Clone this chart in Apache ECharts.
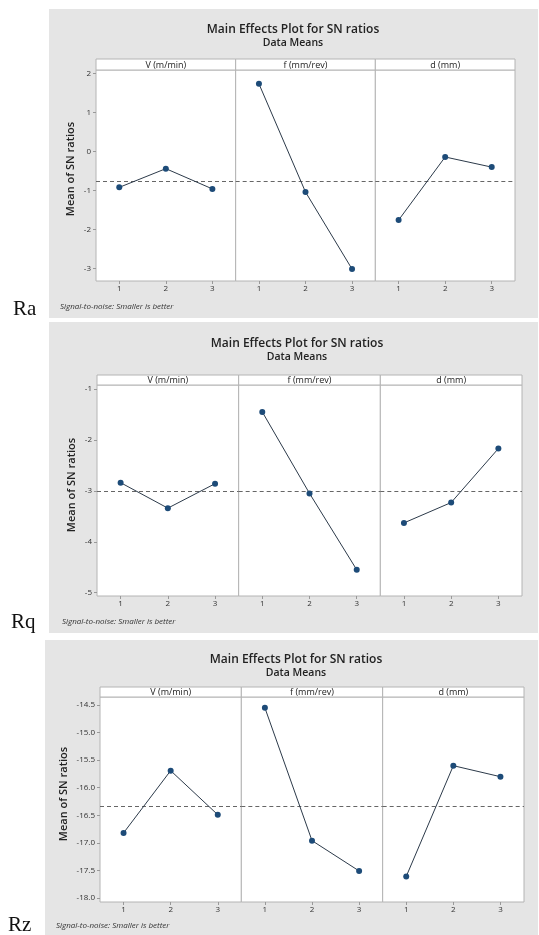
<!DOCTYPE html>
<html>
<head>
<meta charset="utf-8">
<script src="https://cdn.jsdelivr.net/npm/echarts@6/dist/echarts.min.js"></script>
<style>
html,body{margin:0;padding:0;background:#fff;}
#chart{width:539px;height:935px;}
</style>
</head>
<body>
<div id="chart"></div>
<script>
// ---- data ----
const levels = ['1', '2', '3'];
const factors = ['V (m/min)', 'f (mm/rev)', 'd (mm)'];
const chartTags = ['Ra', 'Rq', 'Rz'];
const titleText = 'Main Effects Plot for SN ratios';
const subtitleText = 'Data Means';
const yTitle = 'Mean of SN ratios';
const footText = 'Signal-to-noise: Smaller is better';

const raV = [-0.92, -0.44, -0.96];
const raF = [1.74, -1.04, -3.02];
const raD = [-1.76, -0.14, -0.40];

const rqV = [-2.84, -3.34, -2.86];
const rqF = [-1.45, -3.05, -4.55];
const rqD = [-3.63, -3.23, -2.17];

const rzV = [-16.82, -15.69, -16.49];
const rzF = [-14.55, -16.96, -17.51];
const rzD = [-17.61, -15.60, -15.80];

const raTicks = [-3, -2, -1, 0, 1, 2];
const rqTicks = [-5, -4, -3, -2, -1];
const rzTicks = [-18.0, -17.5, -17.0, -16.5, -16.0, -15.5, -15.0, -14.5];

const seriesSets = [[raV, raF, raD], [rqV, rqF, rqD], [rzV, rzF, rzD]];
const tickSets = [raTicks, rqTicks, rzTicks];
const decimals = [0, 0, 1];
const yRanges = [[-3.326, 2.095], [-5.065, -0.922], [-18.073, -14.354]];

// ---- layout (pixels) ----
const L = [
  {gx:49, gy:9, gw:489, gh:309, tx:293, ty:30, sy:43, left:96, right:515, hTop:59, hBot:70, bottom:281,
   footX:60, footY:307, ylX:71, ylY:169, tagX:13, tagY:309},
  {gx:49, gy:322, gw:489, gh:311, tx:297, ty:344, sy:357, left:97, right:522, hTop:375, hBot:385, bottom:596,
   footX:62, footY:622, ylX:72, ylY:485, tagX:11, tagY:622},
  {gx:45, gy:640, gw:493, gh:295, tx:296, ty:660, sy:673, left:100, right:524, hTop:687, hBot:697, bottom:902,
   footX:56, footY:926, ylX:64, ylY:794, tagX:8, tagY:925}
];

const FONT = '"Open Sans", "Noto Sans", sans-serif';
const BORDER = '#b4b4b4';
const BG = '#e5e5e5';

const graphic = [];
const grid = [], xAxis = [], yAxis = [], series = [];

L.forEach((p, c) => {
  graphic.push({type:'rect', z:0, shape:{x:p.gx, y:p.gy, width:p.gw, height:p.gh}, style:{fill:BG}});
  graphic.push({type:'text', z:5, x:p.tx, y:p.ty, style:{text:titleText, fill:'#222', fontSize:12, fontWeight:600, fontFamily:FONT, align:'center', verticalAlign:'middle'}});
  graphic.push({type:'text', z:5, x:p.tx, y:p.sy, style:{text:subtitleText, fill:'#222', fontSize:10.5, fontWeight:600, fontFamily:FONT, align:'center', verticalAlign:'middle'}});
  graphic.push({type:'text', z:5, x:p.ylX, y:p.ylY, rotation:Math.PI/2, style:{text:yTitle, fill:'#222', fontSize:11, fontWeight:600, fontFamily:FONT, align:'center', verticalAlign:'middle'}});
  graphic.push({type:'text', z:5, x:p.footX, y:p.footY, style:{text:footText, fill:'#333', fontSize:8, fontStyle:'italic', fontFamily:FONT, align:'left', verticalAlign:'middle'}});
  graphic.push({type:'text', z:5, x:p.tagX, y:p.tagY, style:{text:chartTags[c], fill:'#111', fontSize:21, fontFamily:'"Liberation Serif", "DejaVu Serif", serif', align:'left', verticalAlign:'middle'}});

  const pw = (p.right - p.left) / 3;
  const all = seriesSets[c].flat();
  const mean = all.reduce((a, b) => a + b, 0) / all.length;
  const dec = decimals[c];

  factors.forEach((fname, j) => {
    const k = c * 3 + j;
    const x0 = p.left + j * pw;
    // plot cell + header strip
    graphic.push({type:'rect', z:1, shape:{x:x0, y:p.hBot, width:pw, height:p.bottom - p.hBot}, style:{fill:'#fff', stroke:BORDER, lineWidth:1}});
    graphic.push({type:'rect', z:1, shape:{x:x0, y:p.hTop, width:pw, height:p.hBot - p.hTop}, style:{fill:'#fff', stroke:BORDER, lineWidth:1}});
    graphic.push({type:'text', z:5, x:x0 + pw / 2, y:(p.hTop + p.hBot) / 2 + 0.5, style:{text:fname, fill:'#222', fontSize:9, fontFamily:FONT, align:'center', verticalAlign:'middle'}});

    grid.push({left:x0, top:p.hBot, width:pw, height:p.bottom - p.hBot, show:false});
    xAxis.push({type:'category', gridIndex:k, data:levels, boundaryGap:true, position:'bottom', z:3,
      axisLine:{show:false, onZero:false}, splitLine:{show:false},
      axisTick:{show:true, alignWithLabel:true, length:3, lineStyle:{color:'#999'}},
      axisLabel:{fontSize:8, color:'#333', margin:4, fontFamily:FONT}});
    yAxis.push({type:'value', gridIndex:k, min:yRanges[c][0], max:yRanges[c][1], position:'left', z:3,
      axisLine:{show:false, onZero:false}, splitLine:{show:false},
      axisTick:{show:j === 0, customValues:tickSets[c], length:3, lineStyle:{color:'#999'}},
      axisLabel:{show:j === 0, customValues:tickSets[c], fontSize:8, color:'#333', margin:5, fontFamily:FONT,
        formatter: v => Number(v).toFixed(dec)}});
    series.push({type:'line', xAxisIndex:k, yAxisIndex:k, data:seriesSets[c][j],
      symbol:'circle', symbolSize:6, itemStyle:{color:'#1d4b78'},
      lineStyle:{color:'#2c3a4a', width:1}, z:6,
      markLine:{silent:true, symbol:'none', label:{show:false},
        lineStyle:{color:'#666', type:[4, 3], width:1},
        data:[{yAxis:mean}]}});
  });
});

const chart = echarts.init(document.getElementById('chart'), null, {renderer:'canvas'});
chart.setOption({animation:false, backgroundColor:'#fff', graphic, grid, xAxis, yAxis, series});
</script>
</body>
</html>
